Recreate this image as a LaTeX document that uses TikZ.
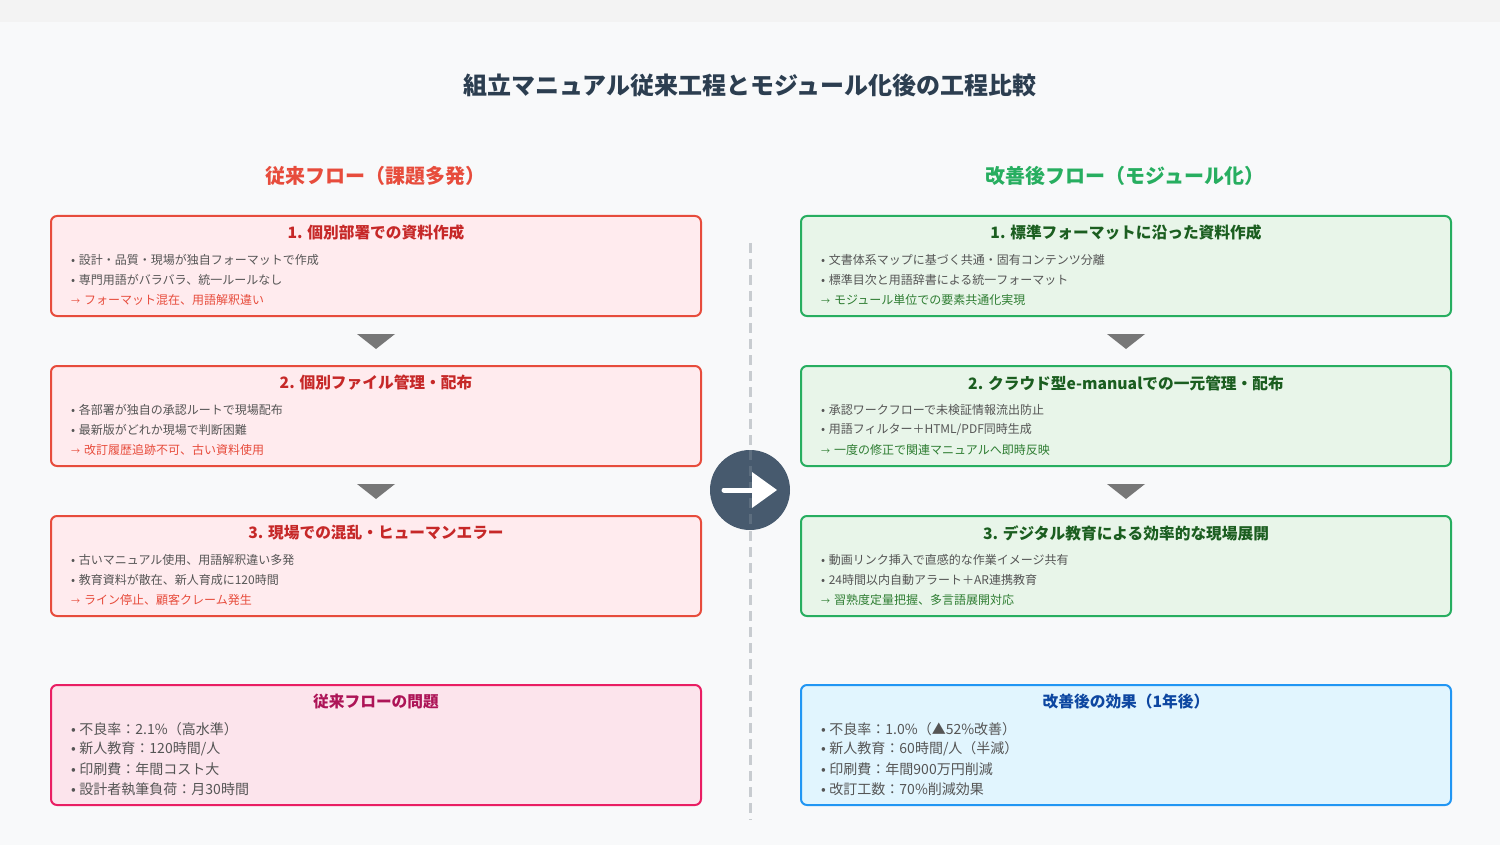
\documentclass[tikz,border=0pt]{standalone}
\usepackage{fontspec}
\setmainfont{Noto Sans CJK JP}
\usetikzlibrary{calc}
\definecolor{bgc}{HTML}{F8F9FA}
\definecolor{topc}{HTML}{F3F3F3}
\definecolor{titlec}{HTML}{2C3E50}
\definecolor{redb}{HTML}{E74C3C}
\definecolor{redf}{HTML}{FFEBEE}
\definecolor{redh}{HTML}{C62828}
\definecolor{greenb}{HTML}{27AE60}
\definecolor{greenf}{HTML}{E8F5E9}
\definecolor{greenh}{HTML}{1B5E20}
\definecolor{greent}{HTML}{2E7D32}
\definecolor{pinkb}{HTML}{E91E63}
\definecolor{pinkf}{HTML}{FCE4EC}
\definecolor{pinkh}{HTML}{AD1457}
\definecolor{blueb}{HTML}{2196F3}
\definecolor{bluef}{HTML}{E1F5FE}
\definecolor{blueh}{HTML}{0D47A1}
\definecolor{bodyc}{HTML}{555555}
\definecolor{tric}{HTML}{777777}
\definecolor{circc}{HTML}{475A6E}
\definecolor{dashc}{HTML}{C8CCD0}
\newcommand{\arr}{{\fontsize{9}{12}\selectfont →}\hspace{4pt}}
\newcommand{\bul}{\raisebox{0pt}{•}\hspace{3.5pt}}
\tikzset{
  panel/.style={draw, rounded corners=6pt, line width=2pt, minimum width=650pt, anchor=north west, inner sep=0pt},
  stepbox/.style={panel, minimum height=100pt},
  sumbox/.style={panel, minimum height=120pt},
  head/.style={font=\bfseries\fontsize{15.7}{18}\selectfont, anchor=center, inner sep=0pt},
  item/.style={font=\fontsize{12}{14}\selectfont, text=bodyc, anchor=west, inner sep=0pt},
  sitem/.style={font=\fontsize{14}{16}\selectfont, text=bodyc, anchor=west, inner sep=0pt},
  sechead/.style={font=\bfseries\fontsize{20}{22}\selectfont, anchor=center, inner sep=0pt},
  tri/.style={fill=tric},
}
\begin{document}
\begin{tikzpicture}[x=1pt,y=-1pt]
\useasboundingbox (0,0) rectangle (1500,845);
\fill[bgc] (0,0) rectangle (1500,845);
\fill[topc] (0,0) rectangle (1500,22);

\node[font=\bfseries\fontsize{24}{26}\selectfont, text=titlec, inner sep=0pt] (title) at (750,85) {組立マニュアル従来工程とモジュール化後の工程比較};

\node[sechead, text=redb] (lhead) at (375,176) {従来フロー（課題多発）};
\node[sechead, text=greenb] (rhead) at (1125,176) {改善後フロー（モジュール化）};

% left boxes
\node[stepbox, draw=redb, fill=redf] (l1) at (50,215) {};
\node[stepbox, draw=redb, fill=redf] (l2) at (50,365) {};
\node[stepbox, draw=redb, fill=redf] (l3) at (50,515) {};
% right boxes
\node[stepbox, draw=greenb, fill=greenf] (r1) at (800,215) {};
\node[stepbox, draw=greenb, fill=greenf] (r2) at (800,365) {};
\node[stepbox, draw=greenb, fill=greenf] (r3) at (800,515) {};
% summaries
\node[sumbox, draw=pinkb, fill=pinkf] (ls) at (50,684) {};
\node[sumbox, draw=blueb, fill=bluef] (rs) at (800,684) {};

% left box texts
\node[head, text=redh] (l1h) at ($(l1.north)+(0,18)$) {1. 個別部署での資料作成};
\node[item] (l1a) at ($(l1.north west)+(21,45)$) {\bul 設計・品質・現場が独自フォーマットで作成};
\node[item] (l1b) at ($(l1.north west)+(21,65)$) {\bul 専門用語がバラバラ、統一ルールなし};
\node[item, text=redb] (l1c) at ($(l1.north west)+(21,85)$) {\arr フォーマット混在、用語解釈違い};

\node[head, text=redh] (l2h) at ($(l2.north)+(0,18)$) {2. 個別ファイル管理・配布};
\node[item] (l2a) at ($(l2.north west)+(21,45)$) {\bul 各部署が独自の承認ルートで現場配布};
\node[item] (l2b) at ($(l2.north west)+(21,65)$) {\bul 最新版がどれか現場で判断困難};
\node[item, text=redb] (l2c) at ($(l2.north west)+(21,85)$) {\arr 改訂履歴追跡不可、古い資料使用};

\node[head, text=redh] (l3h) at ($(l3.north)+(0,18)$) {3. 現場での混乱・ヒューマンエラー};
\node[item] (l3a) at ($(l3.north west)+(21,45)$) {\bul 古いマニュアル使用、用語解釈違い多発};
\node[item] (l3b) at ($(l3.north west)+(21,65)$) {\bul 教育資料が散在、新人育成に120時間};
\node[item, text=redb] (l3c) at ($(l3.north west)+(21,85)$) {\arr ライン停止、顧客クレーム発生};

% right box texts
\node[head, text=greenh] (r1h) at ($(r1.north)+(0,18)$) {1. 標準フォーマットに沿った資料作成};
\node[item] (r1a) at ($(r1.north west)+(21,45)$) {\bul 文書体系マップに基づく共通・固有コンテンツ分離};
\node[item] (r1b) at ($(r1.north west)+(21,65)$) {\bul 標準目次と用語辞書による統一フォーマット};
\node[item, text=greent] (r1c) at ($(r1.north west)+(21,85)$) {\arr モジュール単位での要素共通化実現};

\node[head, text=greenh] (r2h) at ($(r2.north)+(0,18)$) {2. クラウド型e-manualでの一元管理・配布};
\node[item] (r2a) at ($(r2.north west)+(21,45)$) {\bul 承認ワークフローで未検証情報流出防止};
\node[item] (r2b) at ($(r2.north west)+(21,65)$) {\bul 用語フィルター＋HTML/PDF同時生成};
\node[item, text=greent] (r2c) at ($(r2.north west)+(21,85)$) {\arr 一度の修正で関連マニュアルへ即時反映};

\node[head, text=greenh] (r3h) at ($(r3.north)+(0,18)$) {3. デジタル教育による効率的な現場展開};
\node[item] (r3a) at ($(r3.north west)+(21,45)$) {\bul 動画リンク挿入で直感的な作業イメージ共有};
\node[item] (r3b) at ($(r3.north west)+(21,65)$) {\bul 24時間以内自動アラート＋AR連携教育};
\node[item, text=greent] (r3c) at ($(r3.north west)+(21,85)$) {\arr 習熟度定量把握、多言語展開対応};

% summary texts
\node[head, text=pinkh] (lsh) at ($(ls.north)+(0,18)$) {従来フローの問題};
\node[sitem] (lsa) at ($(ls.north west)+(21,45)$) {\bul 不良率：2.1\%（高水準）};
\node[sitem] (lsb) at ($(ls.north west)+(21,65)$) {\bul 新人教育：120時間/人};
\node[sitem] (lsc) at ($(ls.north west)+(21,85)$) {\bul 印刷費：年間コスト大};
\node[sitem] (lsd) at ($(ls.north west)+(21,105)$) {\bul 設計者執筆負荷：月30時間};

\node[head, text=blueh] (rsh) at ($(rs.north)+(0,18)$) {改善後の効果（1年後）};
\node[sitem] (rsa) at ($(rs.north west)+(21,45)$) {\bul 不良率：1.0\%（▲52\%改善）};
\node[sitem] (rsb) at ($(rs.north west)+(21,65)$) {\bul 新人教育：60時間/人（半減）};
\node[sitem] (rsc) at ($(rs.north west)+(21,85)$) {\bul 印刷費：年間900万円削減};
\node[sitem] (rsd) at ($(rs.north west)+(21,105)$) {\bul 改訂工数：70\%削減効果};

% down triangles
\foreach \a/\b in {l1/l2,l2/l3,r1/r2,r2/r3}{
  \coordinate (m) at ($(\a.south)!0.5!(\b.north)$);
  \fill[tri] ($(m)+(-19,-7)$) -- ($(m)+(19,-7)$) -- ($(m)+(0,8)$) -- cycle;
}

% divider and center circle
\coordinate (dtop) at (750,243);
\coordinate (dbot) at (750,820);
\draw[dashc, line width=3pt, dash pattern=on 10pt off 6pt] (dtop) -- (dbot);
\node[circle, fill=circc, minimum size=80pt, inner sep=0pt] (mid) at (750,490) {};
\draw[white, opacity=0.12, line width=3pt, dash pattern=on 10pt off 6pt] (mid.north) -- (mid.south);
\draw[white, line width=5pt, line cap=round] ($(mid.center)+(-26,0)$) -- ($(mid.center)+(4,0)$);
\fill[white] ($(mid.center)+(2,-18)$) -- ($(mid.center)+(27,0)$) -- ($(mid.center)+(2,18)$) -- cycle;
\end{tikzpicture}
\end{document}
